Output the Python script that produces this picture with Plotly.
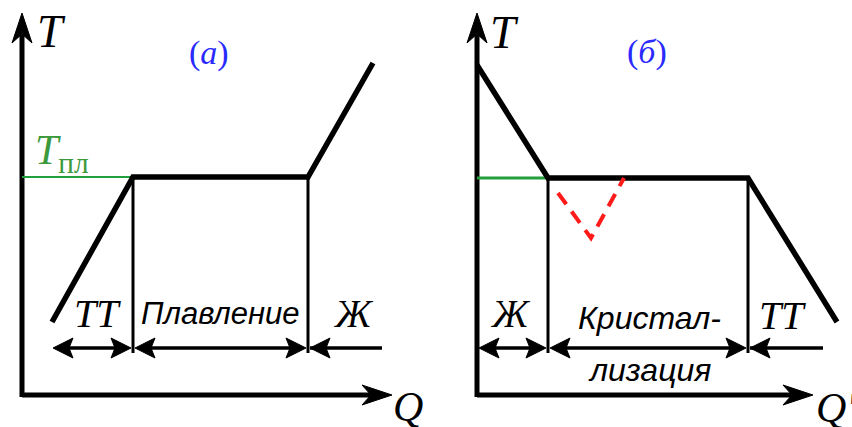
import plotly.graph_objects as go

# ---- panel (а): heating, T vs Q ----
q_heat = [3.0, 11.1, 28.6, 35.1]
t_heat = [7.3, 21.8, 21.8, 33.2]
t_melt_a = 21.8
heat_bounds = [3.1, 11.1, 28.6, 37.0]          # ТТ | Плавление | Ж
heat_labels = ["<i>TT</i>", "<i>Плавление</i>", "<i>Ж</i>"]

# ---- panel (б): cooling, T vs Q' ----
q_cool = [0.0, 7.1, 27.1, 36.0]
t_cool = [33.0, 21.7, 21.7, 7.3]
t_melt_b = 21.7
q_super = [8.1, 11.4, 14.7]                      # supercooling dip
t_super = [20.2, 15.7, 21.7]
cool_bounds = [0.0, 7.1, 27.1, 35.6]            # Ж | Кристаллизация | ТТ

axis_top = 38.2
axis_right_a = 37.0
axis_right_b = 33.6
dim_level = 4.7
bound_bottom = 4.2

BLACK = "#000000"
GREEN_LINE = "#22a03c"
GREEN_TXT = "#3c9a3c"
BLUE = "#2a2aff"
RED = "#ff1a1a"
SERIF = "Liberation Serif"
SANS = "Liberation Sans"

fig = go.Figure()
shapes = []
annotations = []


def head(xr, yr, tip_x, tip_y, dx, dy, length, width, notch):
    """Filled barbed arrowhead as a path in data units (axes are isotropic)."""
    px, py = -dy, dx
    bx, by = tip_x - dx * length, tip_y - dy * length
    nx, ny = tip_x - dx * length * notch, tip_y - dy * length * notch
    p1 = (bx + px * width / 2, by + py * width / 2)
    p2 = (bx - px * width / 2, by - py * width / 2)
    path = (f"M{tip_x},{tip_y} L{p1[0]},{p1[1]} L{nx},{ny} "
            f"L{p2[0]},{p2[1]} Z")
    shapes.append(dict(type="path", path=path, xref=xr, yref=yr,
                       fillcolor=BLACK, line=dict(color=BLACK, width=1)))


def line(xr, yr, xs, ys, color=BLACK, width=5, dash="solid"):
    fig.add_trace(go.Scatter(x=xs, y=ys, mode="lines", xaxis=xr, yaxis=yr,
                             line=dict(color=color, width=width, dash=dash),
                             hoverinfo="skip", showlegend=False))


def axes_arrows(xr, yr, right):
    line(xr, yr, [0, 0], [-0.2, axis_top - 2.2], width=5)
    line(xr, yr, [0, right - 2.2], [0, 0], width=5)
    head(xr, yr, 0, axis_top, 0, 1, 3.0, 2.0, 0.7)
    head(xr, yr, right, 0, 1, 0, 3.0, 2.0, 0.7)


def dim_arrow(xr, yr, x0, x1, both=True):
    line(xr, yr, [x0 + (1.0 if both else 0), x1 - 1.0], [dim_level, dim_level], width=3.5)
    head(xr, yr, x0, dim_level, -1, 0, 2.0, 2.0, 0.8)
    if both:
        head(xr, yr, x1, dim_level, 1, 0, 2.0, 2.0, 0.8)


def text(xr, yr, x, y, s, size, color=BLACK, family=SERIF, xanchor="center"):
    annotations.append(dict(x=x, y=y, xref=xr, yref=yr, text=s, showarrow=False,
                            xanchor=xanchor, yanchor="middle",
                            font=dict(size=size, color=color, family=family)))


# ---------- panel (а) ----------
axes_arrows("x", "y", axis_right_a)
line("x", "y", [0, q_heat[1]], [t_melt_a, t_melt_a], color=GREEN_LINE, width=2)
for qb in heat_bounds[1:3]:
    line("x", "y", [qb, qb], [t_melt_a, bound_bottom], width=3)
line("x", "y", q_heat, t_heat, width=5.5)
g = 0.2
dim_arrow("x", "y", heat_bounds[0], heat_bounds[1] - g)
dim_arrow("x", "y", heat_bounds[1] + g, heat_bounds[2] - g)
dim_arrow("x", "y", heat_bounds[2] + g, heat_bounds[3], both=False)

text("x", "y", 2.9, 36.4, "<i>T</i>", 46)
text("x", "y", 18.7, 34.2, "(<i>а</i>)", 34, color=BLUE)
text("x", "y", 1.1, 24.2, "<i>T</i><sub>пл</sub>", 42, color=GREEN_TXT, xanchor="left")
text("x", "y", 7.5, 8.2, heat_labels[0], 40)
text("x", "y", 19.8, 8.2, heat_labels[1], 31, family=SANS)
text("x", "y", 33.1, 8.2, heat_labels[2], 40)
text("x", "y", 38.6, -1.2, "<i>Q</i>", 42)

# ---------- panel (б) ----------
axes_arrows("x2", "y2", axis_right_b)
line("x2", "y2", [0, q_cool[1]], [t_melt_b, t_melt_b], color=GREEN_LINE, width=3)
for qb in cool_bounds[1:3]:
    line("x2", "y2", [qb, qb], [t_melt_b, bound_bottom], width=3)
line("x2", "y2", q_cool, t_cool, width=5.5)
line("x2", "y2", q_super, t_super, color=RED, width=4, dash="14px,9px")
dim_arrow("x2", "y2", cool_bounds[0] + g, cool_bounds[1] - g)
dim_arrow("x2", "y2", cool_bounds[1] + g, cool_bounds[2] - g)
dim_arrow("x2", "y2", cool_bounds[2] + g, cool_bounds[3], both=False)

text("x2", "y2", 2.7, 36.3, "<i>T</i>", 46)
text("x2", "y2", 17.0, 34.3, "(<i>б</i>)", 34, color=BLUE)
text("x2", "y2", 3.3, 8.2, "<i>Ж</i>", 40)
text("x2", "y2", 17.2, 7.7, "<i>Кристал-</i>", 32, family=SANS)
text("x2", "y2", 17.2, 2.5, "<i>лизация</i>", 32, family=SANS)
text("x2", "y2", 30.5, 8.0, "<i>TT</i>", 40)
text("x2", "y2", 35.9, -1.3, "<i>Q'</i>", 42)

hidden = dict(visible=False, fixedrange=True)
fig.update_layout(
    width=852, height=427,
    margin=dict(l=0, r=0, t=0, b=0),
    paper_bgcolor="white", plot_bgcolor="white",
    xaxis=dict(domain=[0, 0.5], range=[-2.2, 40.4], **hidden),
    yaxis=dict(domain=[0, 1], range=[-3.2, 39.5], **hidden),
    xaxis2=dict(domain=[0.5, 1], range=[-5.1, 37.5], **hidden),
    yaxis2=dict(domain=[0, 1], range=[-3.2, 39.5], anchor="x2", **hidden),
    shapes=shapes, annotations=annotations,
    showlegend=False,
)

fig.write_html("out.html")
